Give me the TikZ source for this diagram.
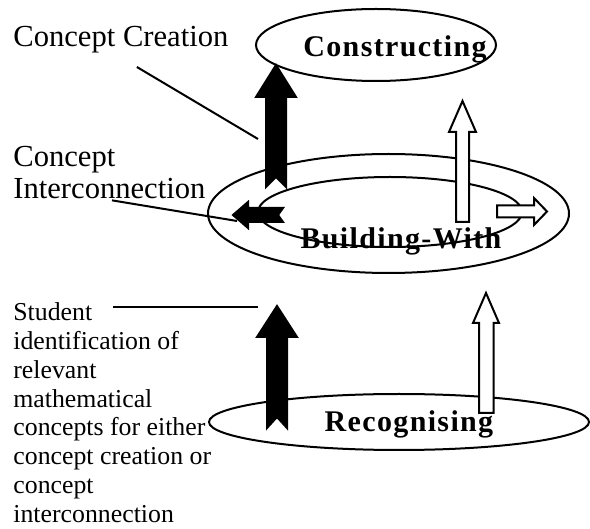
\documentclass[tikz,border=0pt]{standalone}
\usepackage{fontspec}
\setmainfont{Liberation Serif}
\newfontfamily\spacedfont[LetterSpace=4.5]{Liberation Serif}
\usepackage{tikz}
\usetikzlibrary{calc}
\usetikzlibrary{positioning}
\usetikzlibrary{shapes}

\tikzset{
    level/.style={ellipse, draw, line width=1pt, inner sep=0pt},
    levelname/.style={font=\fontsize{15}{17}\spacedfont\bfseries, inner sep=0pt, anchor=base},
    sidenote/.style={font=\fontsize{15.3}{16}\selectfont, inner sep=0pt, align=left, anchor=north west},
    studentnote/.style={font=\fontsize{12.9}{14.45}\selectfont, inner sep=0pt, align=left, anchor=north west},
    leader/.style={line width=1pt},
    solidarrow/.style={fill=black, draw=black, line width=1pt},
    hollowarrow/.style={fill=white, draw=black, line width=1pt}
}

\begin{document}
\begin{tikzpicture}[x=0.5pt, y=-0.5pt]
        \useasboundingbox (0,0) rectangle (590,529);

        % the three levels
        \node[level, minimum width=120pt, minimum height=36pt] (construct) at (376,45) {};
        \node[level, minimum width=180.5pt, minimum height=59.5pt] (buildout) at (388.5,213.5) {};
        \node[level, minimum width=132pt, minimum height=35pt] (buildin) at (390,212) {};
        \node[level, minimum width=190pt, minimum height=28pt] (recog) at (399,422) {};

        % black arrows
        \path[solidarrow] (276,65) -- (296,97) -- (286,97) -- (286,187) -- (276,177)
            -- (266,187) -- (266,97) -- (256,97) -- cycle;
        \path[solidarrow] (277,306) -- (297,337) -- (287,337) -- (287,428) -- (277,417)
            -- (267,428) -- (267,337) -- (257,337) -- cycle;
        \path[solidarrow] (233,215) -- (248,202) -- (248,208) -- (283,208) -- (278,215)
            -- (283,222) -- (248,222) -- (248,228) -- cycle;

        % white arrows
        \path[hollowarrow] (462.5,101) -- (476,132) -- (469,132) -- (469,222) -- (456,222)
            -- (456,132) -- (449,132) -- cycle;
        \path[hollowarrow] (486,293) -- (499,323) -- (493.5,323) -- (493.5,413) -- (479,413)
            -- (479,323) -- (473,323) -- cycle;
        \path[hollowarrow] (547,211.5) -- (534,225) -- (534,217.5) -- (497,217.5) -- (497,205.5)
            -- (534,205.5) -- (534,198) -- cycle;

        % level names
        \node[levelname] (constructlbl) at (395,57) {Constructing};
        \node[levelname] (buildlbl) at (401,249) {Building-With};
        \node[levelname] (recoglbl) at (409,432) {Recognising};

        % side notes
        \node[sidenote, anchor=base west] (creation) at (13,47) {Concept Creation};
        \node[sidenote] (interconn) at (13,146) {Concept\\Interconnection};
        \node[studentnote] (identify) at (13,302) {Student\\identification of\\relevant\\mathematical\\concepts for either\\concept creation or\\concept\\interconnection};

        \coordinate (creationend) at (258,139);
        \coordinate (interconnend) at (237,221);
        \coordinate (identifyend) at (258,307);
        \draw[leader] ([shift={(16,20)}]creation.base) -- (creationend);
        \draw[leader] ([shift={(99,1)}]interconn.south west) -- (interconnend);
        \draw[leader] ([shift={(100,5)}]identify.north west) -- (identifyend);
    \end{tikzpicture}
\end{document}
